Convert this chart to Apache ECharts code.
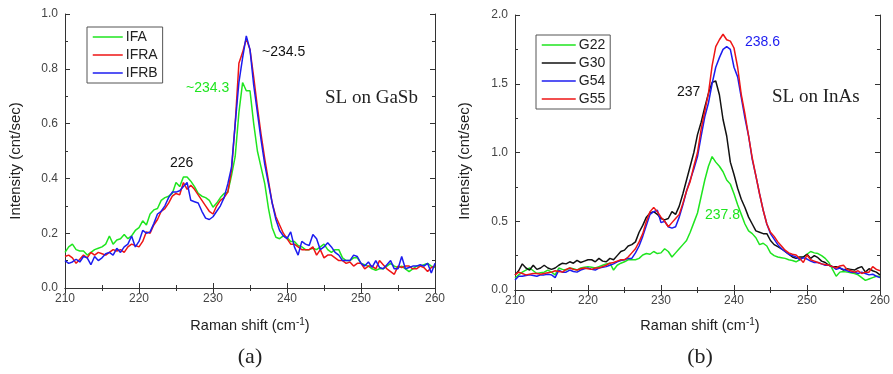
<!DOCTYPE html>
<html>
<head>
<meta charset="utf-8">
<script src="https://cdn.jsdelivr.net/npm/echarts@6/dist/echarts.min.js"></script>
<style>html,body{margin:0;padding:0;background:#fff;}#c{width:893px;height:374px;}</style>
</head>
<body>
<div id="c"></div>
<script>
// Raman shift values (cm^-1), shared by all series
const shift = [];
for (let i = 0; i <= 100; i++) shift.push(210 + i * 0.5);

// Panel (a): SL on GaSb
const IFA = [0.13,0.15,0.16,0.14,0.135,0.135,0.12,0.13,0.14,0.145,0.15,0.16,0.19,0.16,0.175,0.18,0.195,0.18,0.19,0.21,0.22,0.245,0.23,0.27,0.285,0.29,0.32,0.33,0.335,0.345,0.385,0.37,0.405,0.405,0.39,0.37,0.345,0.335,0.33,0.32,0.295,0.31,0.33,0.345,0.35,0.41,0.48,0.64,0.75,0.72,0.72,0.6,0.5,0.44,0.38,0.29,0.22,0.185,0.18,0.19,0.185,0.17,0.17,0.155,0.15,0.14,0.14,0.145,0.14,0.15,0.16,0.14,0.13,0.14,0.14,0.11,0.1,0.1,0.11,0.11,0.09,0.085,0.08,0.07,0.065,0.07,0.07,0.08,0.09,0.08,0.075,0.08,0.07,0.06,0.07,0.08,0.08,0.085,0.09,0.08,0.075];
const IFRA = [0.115,0.12,0.11,0.09,0.105,0.12,0.11,0.13,0.12,0.13,0.125,0.12,0.13,0.14,0.135,0.14,0.13,0.15,0.16,0.155,0.15,0.17,0.205,0.2,0.23,0.25,0.28,0.29,0.31,0.335,0.345,0.34,0.385,0.36,0.375,0.36,0.34,0.32,0.3,0.28,0.27,0.3,0.32,0.33,0.35,0.43,0.6,0.82,0.86,0.91,0.87,0.77,0.66,0.56,0.47,0.39,0.31,0.26,0.23,0.2,0.18,0.16,0.16,0.15,0.14,0.14,0.14,0.15,0.12,0.14,0.11,0.12,0.12,0.11,0.1,0.1,0.09,0.095,0.08,0.09,0.09,0.07,0.08,0.08,0.07,0.1,0.085,0.07,0.06,0.05,0.08,0.075,0.08,0.08,0.07,0.07,0.08,0.075,0.06,0.075,0.08];
const IFRB = [0.1,0.09,0.095,0.105,0.095,0.115,0.11,0.085,0.115,0.1,0.11,0.125,0.13,0.12,0.145,0.13,0.15,0.16,0.19,0.15,0.17,0.21,0.2,0.205,0.235,0.27,0.28,0.3,0.33,0.35,0.35,0.355,0.37,0.385,0.32,0.315,0.31,0.28,0.255,0.25,0.26,0.28,0.3,0.33,0.38,0.44,0.6,0.75,0.84,0.92,0.87,0.74,0.64,0.54,0.45,0.38,0.31,0.25,0.21,0.19,0.18,0.205,0.15,0.12,0.17,0.16,0.155,0.195,0.18,0.14,0.15,0.165,0.15,0.13,0.12,0.1,0.1,0.1,0.12,0.115,0.09,0.08,0.095,0.075,0.1,0.075,0.07,0.085,0.1,0.07,0.07,0.115,0.07,0.075,0.08,0.08,0.085,0.08,0.09,0.055,0.09];

// Panel (b): SL on InAs
const G22 = [0.085,0.11,0.13,0.145,0.16,0.14,0.12,0.125,0.13,0.145,0.13,0.11,0.16,0.15,0.145,0.16,0.155,0.145,0.16,0.165,0.17,0.165,0.16,0.17,0.18,0.19,0.195,0.145,0.18,0.195,0.205,0.22,0.22,0.22,0.23,0.255,0.265,0.26,0.28,0.265,0.27,0.3,0.28,0.24,0.27,0.3,0.33,0.36,0.42,0.49,0.56,0.68,0.8,0.9,0.97,0.93,0.9,0.86,0.8,0.77,0.7,0.62,0.55,0.48,0.43,0.41,0.38,0.33,0.34,0.32,0.27,0.25,0.24,0.235,0.23,0.22,0.215,0.205,0.22,0.24,0.26,0.28,0.27,0.265,0.25,0.23,0.2,0.15,0.1,0.13,0.135,0.13,0.125,0.12,0.11,0.09,0.07,0.08,0.09,0.1,0.1];
const G30 = [0.11,0.14,0.19,0.16,0.145,0.18,0.15,0.16,0.18,0.16,0.15,0.16,0.18,0.195,0.19,0.205,0.195,0.215,0.2,0.21,0.22,0.22,0.205,0.23,0.21,0.205,0.23,0.22,0.25,0.28,0.29,0.32,0.33,0.35,0.42,0.47,0.53,0.56,0.57,0.55,0.52,0.51,0.52,0.57,0.55,0.61,0.7,0.8,0.9,1.0,1.13,1.22,1.33,1.43,1.51,1.52,1.42,1.24,1.12,0.93,0.84,0.74,0.66,0.6,0.53,0.48,0.43,0.42,0.41,0.41,0.36,0.33,0.315,0.3,0.28,0.26,0.24,0.23,0.24,0.24,0.26,0.23,0.25,0.235,0.21,0.2,0.18,0.17,0.17,0.16,0.145,0.155,0.15,0.145,0.16,0.17,0.13,0.155,0.14,0.13,0.11];
const G54 = [0.073,0.1,0.1,0.105,0.11,0.105,0.1,0.11,0.11,0.115,0.11,0.09,0.145,0.13,0.13,0.145,0.135,0.13,0.145,0.155,0.16,0.15,0.145,0.16,0.165,0.17,0.18,0.19,0.205,0.215,0.22,0.23,0.23,0.27,0.32,0.39,0.47,0.55,0.57,0.58,0.49,0.5,0.46,0.45,0.46,0.53,0.62,0.72,0.8,0.88,0.97,1.12,1.26,1.36,1.5,1.62,1.69,1.75,1.77,1.75,1.62,1.55,1.4,1.25,1.12,0.95,0.83,0.7,0.58,0.48,0.41,0.37,0.33,0.3,0.28,0.26,0.25,0.24,0.22,0.235,0.225,0.21,0.2,0.2,0.19,0.18,0.18,0.17,0.15,0.16,0.15,0.14,0.13,0.13,0.12,0.13,0.12,0.11,0.115,0.1,0.09];
const G55 = [0.11,0.13,0.12,0.11,0.115,0.12,0.12,0.115,0.12,0.125,0.13,0.14,0.135,0.13,0.15,0.16,0.15,0.145,0.155,0.16,0.155,0.15,0.16,0.16,0.17,0.18,0.195,0.2,0.21,0.22,0.22,0.24,0.27,0.3,0.35,0.41,0.5,0.57,0.6,0.57,0.53,0.5,0.46,0.49,0.52,0.55,0.63,0.72,0.79,0.9,1.0,1.17,1.3,1.43,1.63,1.77,1.82,1.86,1.82,1.81,1.76,1.62,1.42,1.28,1.12,0.96,0.83,0.7,0.58,0.48,0.42,0.39,0.35,0.32,0.29,0.27,0.26,0.255,0.23,0.2,0.255,0.22,0.21,0.2,0.19,0.185,0.18,0.17,0.16,0.175,0.18,0.15,0.14,0.13,0.14,0.12,0.13,0.13,0.17,0.15,0.14];

const pair = (arr) => arr.map((v, i) => [shift[i], v]);

const FONT = 'Liberation Sans';
const labelStyle = { color: '#444', fontFamily: FONT, fontSize: 12 };
const axisLineStyle = { lineStyle: { color: '#333', width: 1 } };

function xAx(gi, pos, showLabel) {
  return {
    type: 'value', gridIndex: gi, position: pos, min: 210, max: 260, interval: 10,
    axisLine: axisLineStyle,
    axisTick: { show: true, inside: true, length: 5, lineStyle: { color: '#333' } },
    minorTick: { show: true, splitNumber: 2, length: 3, lineStyle: { color: '#333' } },
    axisLabel: Object.assign({ show: showLabel, margin: 5 }, labelStyle),
    splitLine: { show: false }, minorSplitLine: { show: false }
  };
}
function yAx(gi, pos, max, interval, showLabel) {
  return {
    type: 'value', gridIndex: gi, position: pos, min: 0, max: max, interval: interval,
    axisLine: axisLineStyle,
    axisTick: { show: true, inside: true, length: 5, lineStyle: { color: '#333' } },
    minorTick: { show: true, splitNumber: 2, length: 3, lineStyle: { color: '#333' } },
    axisLabel: Object.assign({ show: showLabel, margin: 7, formatter: v => v.toFixed(1) }, labelStyle),
    splitLine: { show: false }, minorSplitLine: { show: false }
  };
}

function ser(name, data, color, xi, yi) {
  return {
    name: name, type: 'line', data: pair(data), xAxisIndex: xi, yAxisIndex: yi,
    symbol: 'none', smooth: false, lineStyle: { color: color, width: 1.5 }, itemStyle: { color: color },
    animation: false, z: 3
  };
}

const GREEN = '#1fe51f', RED = '#ee1515', BLUE = '#1c1cf0', BLACK = '#111111';

function legendCfg(names, left, top, w) {
  return {
    data: names, orient: 'vertical', left: left, top: top,
    itemWidth: w, itemHeight: 14, itemGap: 4, padding: [3, 5, 3, 5],
    borderColor: '#555', borderWidth: 1, selectedMode: false,
    itemStyle: { opacity: 0 },
    lineStyle: { width: 1.5 },
    textStyle: { fontFamily: FONT, fontSize: 14, color: '#222', padding: [0, 0, 0, -2] }
  };
}

const subRich = { s: { fontSize: 10, verticalAlign: 'top', padding: [0, 0, 8, 0], fontFamily: FONT, fill: '#222' } };

const chart = echarts.init(document.getElementById('c'), null, { renderer: 'canvas' });
chart.setOption({
  animation: false,
  backgroundColor: '#fff',
  grid: [
    { left: 65, right: 458, top: 14, bottom: 86, show: false },
    { left: 515, right: 7, top: 15, bottom: 84, show: false }
  ],
  xAxis: [xAx(0, 'bottom', true), xAx(0, 'top', false), xAx(1, 'bottom', true), xAx(1, 'top', false)],
  yAxis: [yAx(0, 'left', 1.0, 0.2, true), yAx(0, 'right', 1.0, 0.2, false), yAx(1, 'left', 2.0, 0.5, true), yAx(1, 'right', 2.0, 0.5, false)],
  legend: [
    legendCfg(['IFA', 'IFRA', 'IFRB'], 87, 27, 30),
    legendCfg(['G22', 'G30', 'G54', 'G55'], 536, 35, 34)
  ],
  series: [
    ser('IFA', IFA, GREEN, 0, 0),
    ser('IFRA', IFRA, RED, 0, 0),
    ser('IFRB', IFRB, BLUE, 0, 0),
    ser('G22', G22, GREEN, 2, 2),
    ser('G30', G30, BLACK, 2, 2),
    ser('G54', G54, BLUE, 2, 2),
    ser('G55', G55, RED, 2, 2)
  ],
  graphic: [
    { type: 'text', x: 250, y: 326, style: { text: 'Raman shift (cm{s|-1})', rich: subRich, fontFamily: FONT, fontSize: 14.5, fill: '#222', textAlign: 'center', textVerticalAlign: 'middle' } },
    { type: 'text', x: 700, y: 326, style: { text: 'Raman shift (cm{s|-1})', rich: subRich, fontFamily: FONT, fontSize: 14.5, fill: '#222', textAlign: 'center', textVerticalAlign: 'middle' } },
    { type: 'text', x: 16, y: 161, rotation: Math.PI / 2, style: { text: 'Intensity (cnt/sec)', fontFamily: FONT, fontSize: 15, fill: '#222', textAlign: 'center', textVerticalAlign: 'middle' } },
    { type: 'text', x: 465, y: 161, rotation: Math.PI / 2, style: { text: 'Intensity (cnt/sec)', fontFamily: FONT, fontSize: 15, fill: '#222', textAlign: 'center', textVerticalAlign: 'middle' } },
    { type: 'text', x: 250, y: 357, style: { text: '(a)', fontFamily: 'Liberation Serif', fontSize: 22, fill: '#222', textAlign: 'center', textVerticalAlign: 'middle' } },
    { type: 'text', x: 700, y: 357, style: { text: '(b)', fontFamily: 'Liberation Serif', fontSize: 22, fill: '#222', textAlign: 'center', textVerticalAlign: 'middle' } },
    { type: 'text', x: 262, y: 52, style: { text: '~234.5', fontFamily: FONT, fontSize: 14, fill: '#111', textVerticalAlign: 'middle' } },
    { type: 'text', x: 186, y: 88, style: { text: '~234.3', fontFamily: FONT, fontSize: 14, fill: GREEN, textVerticalAlign: 'middle' } },
    { type: 'text', x: 170, y: 163, style: { text: '226', fontFamily: FONT, fontSize: 14, fill: '#111', textVerticalAlign: 'middle' } },
    { type: 'text', x: 325, y: 98, style: { text: 'SL on GaSb', fontFamily: 'Liberation Serif', fontSize: 19, fill: '#222', textVerticalAlign: 'middle' } },
    { type: 'text', x: 745, y: 42, style: { text: '238.6', fontFamily: FONT, fontSize: 14, fill: BLUE, textVerticalAlign: 'middle' } },
    { type: 'text', x: 677, y: 92, style: { text: '237', fontFamily: FONT, fontSize: 14, fill: '#111', textVerticalAlign: 'middle' } },
    { type: 'text', x: 705, y: 215, style: { text: '237.8', fontFamily: FONT, fontSize: 14, fill: GREEN, textVerticalAlign: 'middle' } },
    { type: 'text', x: 772, y: 97, style: { text: 'SL on InAs', fontFamily: 'Liberation Serif', fontSize: 19, fill: '#222', textVerticalAlign: 'middle' } }
  ]
});
</script>
</body>
</html>
